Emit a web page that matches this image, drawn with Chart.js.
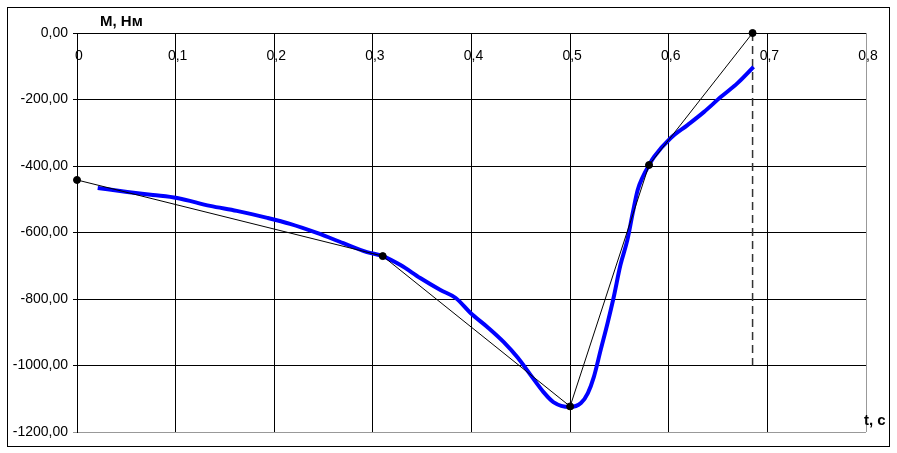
<!DOCTYPE html>
<html>
<head>
<meta charset="utf-8">
<script src="https://cdn.jsdelivr.net/npm/chart.js@4/dist/chart.umd.min.js"></script>
<style>
    * { margin: 0; padding: 0; }
    body { background: #fff; width: 897px; height: 453px; position: relative; overflow: hidden; }
    .frame {
        position: absolute;
        left: 7px; top: 7px;
        width: 881px; height: 438px;
        border: 1px solid #000;
    }
    canvas { position: absolute; left: 0; top: 0; }
</style>
</head>
<body>
<div class="frame"></div>
<canvas id="chart" width="897" height="453"></canvas>
<script>
// measured moment curve M(t)
const curveT = [0.021, 0.051, 0.077, 0.1015, 0.135, 0.162, 0.193, 0.216, 0.244, 0.270, 0.294, 0.310,
    0.328, 0.348, 0.3685, 0.384, 0.399, 0.416, 0.4325, 0.447, 0.460, 0.473, 0.483, 0.4995,
    0.511, 0.518, 0.524, 0.531, 0.538, 0.544, 0.551, 0.558, 0.5635, 0.5685, 0.5736, 0.580,
    0.585, 0.602, 0.619, 0.6355, 0.653, 0.670, 0.686];
const curveM = [-466, -478, -487, -496, -520, -535, -556, -574, -602, -632, -659, -671,
    -698, -737, -773, -797, -842, -884, -929, -977, -1029, -1080, -1110, -1125,
    -1113, -1083, -1035, -953, -872, -797, -698, -623, -541, -472, -433, -397,
    -373, -316, -277, -238, -192, -150, -102];

// approximating polyline through key points
const keyT = [0, 0.31, 0.5, 0.58, 0.685];
const keyM = [-442, -671, -1123, -397, 0];

// end marker (dashed)
const endT = [0.685, 0.685];
const endM = [0, -1000];

const xTickLabels = ["0", "0,1", "0,2", "0,3", "0,4", "0,5", "0,6", "0,7", "0,8"];
const yTickLabels = ["-1200,00", "-1000,00", "-800,00", "-600,00", "-400,00", "-200,00", "0,00"];

const toPts = (xs, ys) => xs.map((x, i) => ({ x: x, y: ys[i] }));

const titles = {
    id: "titles",
    afterDraw(chart) {
        const ctx = chart.ctx;
        ctx.save();
        ctx.fillStyle = "#000";
        ctx.font = "bold 15px 'Liberation Sans', Arial, sans-serif";
        ctx.textBaseline = "middle";
        ctx.textAlign = "left";
        ctx.fillText("М, Нм", 100, 22);
        ctx.fillText("t, с", 864, 421);
        ctx.restore();
    }
};

const font = { family: "'Liberation Sans', Arial, sans-serif", size: 14 };

new Chart(document.getElementById("chart"), {
    type: "scatter",
    data: {
        datasets: [
            {
                data: toPts(keyT, keyM),
                showLine: true,
                borderColor: "#000",
                borderWidth: 1,
                pointRadius: 3.5,
                pointBackgroundColor: "#000",
                pointBorderColor: "#000",
                clip: false
            },
            {
                data: toPts(curveT, curveM),
                showLine: true,
                borderColor: "#0000ff",
                borderWidth: 4,
                pointRadius: 0,
                tension: 0.3,
                cubicInterpolationMode: "monotone",
                borderCapStyle: "butt"
            },
            {
                data: toPts(endT, endM),
                showLine: true,
                borderColor: "#333",
                borderWidth: 1.5,
                borderDash: [8, 5],
                pointRadius: 0
            }
        ]
    },
    options: {
        responsive: false,
        animation: false,
        layout: { padding: { left: 0, right: 31, top: 33, bottom: 21 } },
        plugins: { legend: { display: false }, tooltip: { enabled: false } },
        scales: {
            x: {
                type: "linear",
                min: 0, max: 0.8,
                position: { y: 0 },
                border: { display: false },
                grid: {
                    color: ctx => ctx.tick && ctx.tick.value >= 0.79 ? "#999" : "#000",
                    lineWidth: 1,
                    drawTicks: false
                },
                ticks: {
                    stepSize: 0.1,
                    color: "#000",
                    font: font,
                    padding: 15,
                    labelOffset: 2,
                    maxRotation: 0,
                    callback: (v, i) => xTickLabels[i]
                }
            },
            y: {
                min: -1200, max: 0,
                border: { color: "#000" },
                afterFit: s => { s.width = 77; },
                grid: {
                    color: ctx => ctx.tick && ctx.tick.value <= -1199 ? "#999" : "#000",
                    lineWidth: 1,
                    tickLength: 4
                },
                ticks: {
                    stepSize: 200,
                    color: "#000",
                    font: font,
                    padding: 5,
                    callback: (v, i) => yTickLabels[i]
                }
            }
        }
    },
    plugins: [titles]
});
</script>
</body>
</html>
